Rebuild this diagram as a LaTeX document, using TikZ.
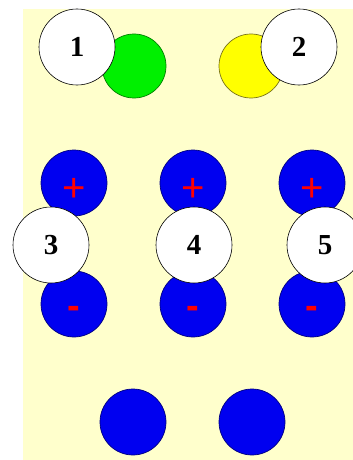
\documentclass[tikz,border=0pt]{standalone}
\usepackage{fontspec}
\setmainfont{Liberation Serif}
\newfontfamily\signfont{Liberation Sans}
\usepackage{xcolor}
\usepackage{tikz}
\definecolor{paper}{HTML}{FFFFCC}
\definecolor{ledgreen}{HTML}{00F000}
\definecolor{ledyellow}{HTML}{FFFF00}
\definecolor{ledblue}{HTML}{0000F0}
\newcommand{\plussign}{\raisebox{-18pt}{\fontsize{40}{40}\selectfont +}}
\newcommand{\minussign}{\raisebox{-14pt}{\bfseries\fontsize{38}{38}\selectfont -}}

\begin{document}
\begin{tikzpicture}[
    x=1pt,y=-1pt,
    led/.style={circle,minimum size=64pt,inner sep=0pt,line width=0.7pt},
    greenled/.style={led,draw=green!50!black,fill=ledgreen},
    yellowled/.style={led,draw=olive!80!black,fill=ledyellow},
    blueled/.style={led,minimum size=66pt,draw=blue!50!black,fill=ledblue,
      text=red,font=\signfont,text height=0pt,text depth=0pt},
    marker/.style={circle,draw=black,fill=white,minimum size=76pt,
      inner sep=0pt,line width=0.6pt,font=\bfseries\fontsize{29}{29}\selectfont}
  ]
    \useasboundingbox (0,0) rectangle (353,460);
    \clip (0,0) rectangle (353,460);
    \fill[paper] (23,9) rectangle (353,460);

    % Top pair: green and yellow.
    \node[greenled] (green) at (134,66) {};
    \node[yellowled] (yellow) at (251,66) {};

    % Three columns, plus on top and minus below.
    \node[blueled] (plusa) at (74,183) {\plussign};
    \node[blueled] (plusb) at (193,183) {\plussign};
    \node[blueled] (plusc) at (312,183) {\plussign};
    \node[blueled] (minusa) at (74,304) {\minussign};
    \node[blueled] (minusb) at (193,304) {\minussign};
    \node[blueled] (minusc) at (312,304) {\minussign};

    % Bottom pair.
    \node[blueled] (lowa) at (133,422) {};
    \node[blueled] (lowb) at (252,422) {};

    % Numbered markers.
    \node[marker] (one) at (77,47) {1};
    \node[marker] (two) at (299,47) {2};
    \node[marker] (three) at (51,245) {3};
    \node[marker] (four) at (194,245) {4};
    \node[marker] (five) at (325,245) {5};
  \end{tikzpicture}
\end{document}
